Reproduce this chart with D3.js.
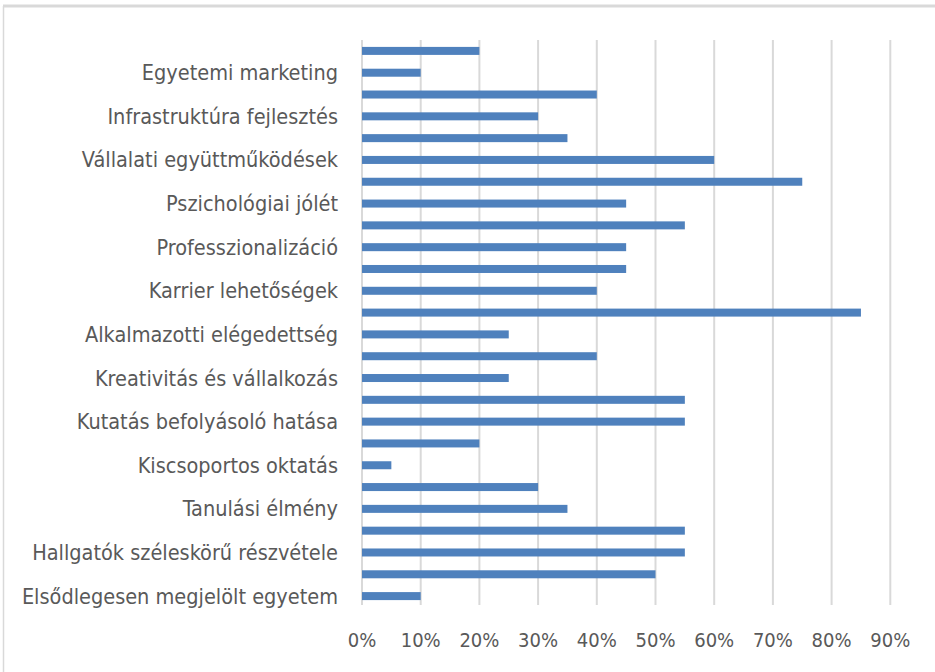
<!DOCTYPE html>
<html>
<head>
<meta charset="utf-8">
<script src="https://cdn.jsdelivr.net/npm/d3@7"></script>
<style>
  body { margin: 0; background: #fff; }
  svg { display: block; }
</style>
</head>
<body>
<svg id="chart"></svg>
<script>
// categories, top to bottom
const categories = [
  "Egyetemi marketing",
  "Infrastruktúra fejlesztés",
  "Vállalati együttműködések",
  "Pszichológiai jólét",
  "Professzionalizáció",
  "Karrier lehetőségek",
  "Alkalmazotti elégedettség",
  "Kreativitás és vállalkozás",
  "Kutatás befolyásoló hatása",
  "Kiscsoportos oktatás",
  "Tanulási élmény",
  "Hallgatók széleskörű részvétele",
  "Elsődlegesen megjelölt egyetem"
]
// upper bar of each pair
const upperValues = [0.20, 0.40, 0.35, 0.75, 0.55, 0.45, 0.85, 0.40, 0.55, 0.20, 0.30, 0.55, 0.50]
// lower bar (the one beside the label)
const lowerValues = [0.10, 0.30, 0.60, 0.45, 0.45, 0.40, 0.25, 0.25, 0.55, 0.05, 0.35, 0.55, 0.10]
const xTicks = [0, 0.1, 0.2, 0.3, 0.4, 0.5, 0.6, 0.7, 0.8, 0.9]

function drawChart() {
  const width = 935
  const height = 672
  const font = "'DejaVu Sans Condensed', sans-serif"

  const svg = d3.select("#chart")
    .attr("width", width)
    .attr("height", height)

  // chart frame
  svg.append("line")
    .attr("x1", 3).attr("x2", width).attr("y1", 6).attr("y2", 6)
    .attr("stroke", "#d9d9d9").attr("stroke-width", 3)
  svg.append("line")
    .attr("x1", 3.5).attr("x2", 3.5).attr("y1", 6).attr("y2", height)
    .attr("stroke", "#d9d9d9").attr("stroke-width", 1.5)

  const x = d3.scaleLinear()
    .domain([0, 0.9])
    .range([362, 890.3])

  const y = d3.scaleBand()
    .domain(categories)
    .range([40, 607])
    .paddingInner(0)
    .paddingOuter(0)

  const sub = d3.scaleBand()
    .domain(["upper", "lower"])
    .range([0, y.bandwidth()])

  const barH = 8
  const gridBottom = 605

  // gridlines
  svg.append("g")
    .selectAll("line")
    .data(xTicks)
    .join("line")
    .attr("x1", d => x(d))
    .attr("x2", d => x(d))
    .attr("y1", 40)
    .attr("y2", gridBottom)
    .attr("stroke", "#d9d9d9")
    .attr("stroke-width", 2)

  // bars
  const rows = categories.map((c, i) => [
    { cat: c, key: "upper", v: upperValues[i] },
    { cat: c, key: "lower", v: lowerValues[i] }
  ]).flat()

  svg.append("g")
    .selectAll("rect")
    .data(rows)
    .join("rect")
    .attr("x", x(0))
    .attr("y", d => y(d.cat) + sub(d.key) + sub.bandwidth() / 2 - barH / 2)
    .attr("width", d => x(d.v) - x(0))
    .attr("height", barH)
    .attr("fill", "#4f81bd")

  // category labels
  svg.append("g")
    .selectAll("text")
    .data(categories)
    .join("text")
    .attr("x", 338)
    .attr("y", d => y(d) + sub("lower") + sub.bandwidth() / 2)
    .attr("dy", "0.35em")
    .attr("text-anchor", "end")
    .attr("font-family", font)
    .attr("font-size", 21.5)
    .attr("fill", "#595959")
    .text(d => d)

  // x tick labels
  svg.append("g")
    .selectAll("text")
    .data(xTicks)
    .join("text")
    .attr("x", d => x(d))
    .attr("y", 640)
    .attr("dy", "0.35em")
    .attr("text-anchor", "middle")
    .attr("font-family", font)
    .attr("font-size", 20)
    .attr("fill", "#595959")
    .text(d3.format(".0%"))
}

drawChart()
</script>
</body>
</html>
